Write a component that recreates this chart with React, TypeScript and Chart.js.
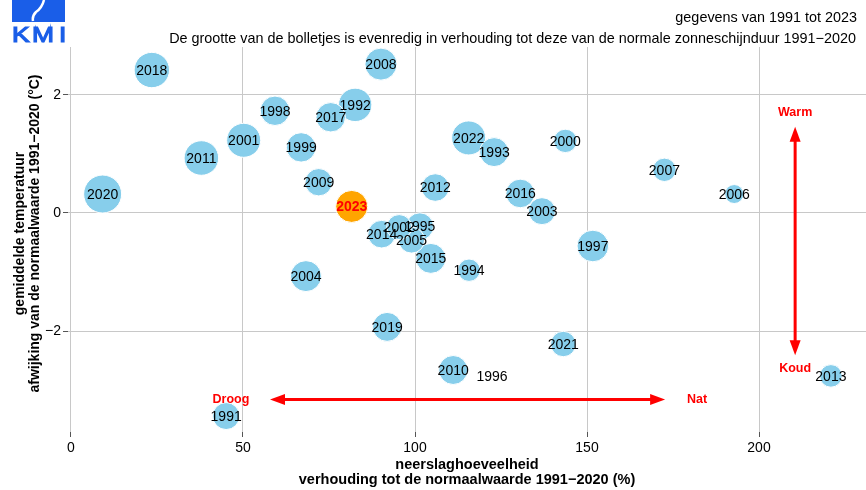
import { useEffect, useRef } from 'react';
import { Chart, registerables } from 'chart.js';

Chart.register(...registerables);

const jaren = [1991, 1992, 1993, 1994, 1995, 1996, 1997, 1998, 1999, 2000, 2001, 2002, 2003, 2004, 2005, 2006, 2007, 2008, 2009, 2010, 2011, 2012, 2013, 2014, 2015, 2016, 2017, 2018, 2019, 2020, 2021, 2022, 2023];
const neerslag = [45.1, 82.6, 123.0, 115.7, 101.4, 122.4, 151.7, 59.3, 66.9, 143.7, 50.2, 95.4, 136.9, 68.3, 99.0, 192.8, 172.5, 90.1, 72.0, 111.1, 37.9, 105.9, 220.9, 90.3, 104.6, 130.6, 75.5, 23.5, 91.9, 9.2, 143.1, 115.6, 81.6];
const temperatuur = [-3.44, 1.83, 1.03, -0.97, -0.23, -2.77, -0.56, 1.73, 1.11, 1.22, 1.23, -0.24, 0.03, -1.07, -0.46, 0.32, 0.73, 2.52, 0.52, -2.66, 0.93, 0.43, -2.76, -0.36, -0.77, 0.33, 1.62, 2.42, -1.93, 0.32, -2.22, 1.27, 0.11];
const zonneschijn = [105.0, 112.1, 107.2, 99.9, 105.4, 75.0, 110.1, 107.7, 107.7, 101.0, 112.8, 102.8, 105.0, 109.4, 103.9, 96.1, 101.0, 110.6, 105.4, 107.2, 113.4, 105.7, 100.1, 105.7, 108.3, 106.8, 107.7, 114.3, 107.2, 117.2, 103.2, 112.8, 110.6];
const huidigJaar = 2023;

const xTicks = [0, 50, 100, 150, 200];
const yTicks = [-2, 0, 2];

const titel1 = 'gegevens van 1991 tot 2023';
const titel2 = 'De grootte van de bolletjes is evenredig in verhouding tot deze van de normale zonneschijnduur 1991\u22122020';
const xTitel = ['neerslaghoeveelheid', 'verhouding tot de normaalwaarde 1991\u22122020 (%)'];
const yTitel = ['gemiddelde temperatuur', 'afwijking van de normaalwaarde 1991\u22122020 (\u00B0C)'];

// annotations (data units)
const horPijl = { x0: 57.85, x1: 172.7, y: -3.16 };
const verPijl = { x: 210.5, y0: 1.46, y1: -2.41 };
const pijlLabels = [
  { tekst: 'Droog', x: 46.5, y: -3.16 },
  { tekst: 'Nat', x: 182.0, y: -3.16 },
  { tekst: 'Warm', x: 210.5, y: 1.70 },
  { tekst: 'Koud', x: 210.5, y: -2.64 },
];

const FONT = "'Liberation Sans', Arial, Helvetica, sans-serif";

function straal(s: number) {
  return Math.max(0, (s - 75) * 0.45);
}

function fmt(v: number) {
  return v < 0 ? '\u2212' + Math.abs(v) : String(v);
}

export default function App() {
  const ref = useRef<HTMLCanvasElement | null>(null);

  useEffect(() => {
    const canvas = ref.current;
    if (!canvas) return;

    const punten = jaren.map((j, i) => ({
      x: neerslag[i],
      y: temperatuur[i],
      r: straal(zonneschijn[i]),
      jaar: j,
    }));
    punten.sort((a, b) => b.r - a.r);

    const labelPlugin = {
      id: 'labels',
      afterDatasetsDraw(chart: any) {
        const ctx = chart.ctx;
        const xs = chart.scales.x;
        const ys = chart.scales.y;
        ctx.save();
        ctx.textAlign = 'center';
        ctx.textBaseline = 'middle';
        jaren.forEach((j, i) => {
          const px = xs.getPixelForValue(neerslag[i]);
          const py = ys.getPixelForValue(temperatuur[i]);
          if (j === huidigJaar) {
            ctx.font = `bold 14px ${FONT}`;
            ctx.fillStyle = '#ff0000';
          } else {
            ctx.font = `14px ${FONT}`;
            ctx.fillStyle = '#000000';
          }
          ctx.fillText(String(j), px, py + 1);
        });
        ctx.restore();
      },
    };

    const extraPlugin = {
      id: 'extra',
      afterDraw(chart: any) {
        const ctx = chart.ctx;
        const xs = chart.scales.x;
        const ys = chart.scales.y;
        const ca = chart.chartArea;
        ctx.save();

        // arrows
        const rood = '#ff0000';
        const kop = (tx: number, ty: number, dx: number, dy: number) => {
          const L = 15, W = 5.5;
          const bx = tx - dx * L, by = ty - dy * L;
          ctx.beginPath();
          ctx.moveTo(tx, ty);
          ctx.lineTo(bx - dy * W, by + dx * W);
          ctx.lineTo(bx + dy * W, by - dx * W);
          ctx.closePath();
          ctx.fill();
        };
        ctx.strokeStyle = rood;
        ctx.fillStyle = rood;
        ctx.lineWidth = 3;
        const hx0 = xs.getPixelForValue(horPijl.x0);
        const hx1 = xs.getPixelForValue(horPijl.x1);
        const hy = ys.getPixelForValue(horPijl.y);
        ctx.beginPath();
        ctx.moveTo(hx0 + 8, hy);
        ctx.lineTo(hx1 - 8, hy);
        ctx.stroke();
        kop(hx0, hy, -1, 0);
        kop(hx1, hy, 1, 0);
        const vx = xs.getPixelForValue(verPijl.x);
        const vy0 = ys.getPixelForValue(verPijl.y0);
        const vy1 = ys.getPixelForValue(verPijl.y1);
        ctx.beginPath();
        ctx.moveTo(vx, vy0 + 8);
        ctx.lineTo(vx, vy1 - 8);
        ctx.stroke();
        kop(vx, vy0, 0, -1);
        kop(vx, vy1, 0, 1);

        ctx.font = `bold 12.5px ${FONT}`;
        ctx.textAlign = 'center';
        ctx.textBaseline = 'middle';
        pijlLabels.forEach((l) => {
          ctx.fillText(l.tekst, xs.getPixelForValue(l.x), ys.getPixelForValue(l.y));
        });

        // titles
        ctx.fillStyle = '#000';
        ctx.font = `14.4px ${FONT}`;
        ctx.textAlign = 'right';
        ctx.textBaseline = 'alphabetic';
        ctx.fillText(titel1, 857, 22);
        ctx.fillText(titel2, 856, 43);

        // axis titles
        ctx.font = `bold 14.5px ${FONT}`;
        ctx.textAlign = 'center';
        ctx.textBaseline = 'middle';
        const cx = (ca.left + ca.right) / 2;
        ctx.fillText(xTitel[0], cx, 465);
        ctx.fillText(xTitel[1], cx, 480);
        ctx.font = `bold 14px ${FONT}`;
        const cy = (ca.top + ca.bottom) / 2 - 6;
        ctx.save();
        ctx.translate(20, cy);
        ctx.rotate(-Math.PI / 2);
        ctx.fillText(yTitel[0], 0, 0);
        ctx.restore();
        ctx.save();
        ctx.translate(35, cy);
        ctx.rotate(-Math.PI / 2);
        ctx.fillText(yTitel[1], 0, 0);
        ctx.restore();

        // logo
        const blauw = '#1a5ee8';
        ctx.fillStyle = blauw;
        ctx.fillRect(12, 0, 53, 22);
        ctx.strokeStyle = '#ffffff';
        ctx.lineWidth = 2.5;
        ctx.beginPath();
        ctx.moveTo(44, 0);
        ctx.quadraticCurveTo(42, 8, 36, 12);
        ctx.quadraticCurveTo(32, 16, 33, 21);
        ctx.stroke();
        ctx.fillStyle = blauw;
        ctx.strokeStyle = blauw;
        ctx.lineWidth = 1.2;
        ctx.font = `22px ${FONT}`;
        ctx.textAlign = 'left';
        ctx.textBaseline = 'alphabetic';
        const letters: [string, number][] = [['K', 12], ['M', 32], ['I', 59]];
        letters.forEach(([t, x]) => {
          ctx.save();
          ctx.translate(x, 41.5);
          ctx.scale(1.2, 1.03);
          ctx.fillText(t, 0, 0);
          ctx.strokeText(t, 0, 0);
          ctx.restore();
        });

        ctx.restore();
      },
    };

    const chart = new Chart(canvas, {
      type: 'bubble',
      data: {
        datasets: [
          {
            data: punten as any,
            backgroundColor: punten.map((p) => (p.jaar === huidigJaar ? '#ffa500' : '#87ceeb')),
            borderColor: '#ffffff',
            borderWidth: 1,
            hoverRadius: 0,
            hoverBorderWidth: 1,
          },
        ],
      },
      options: {
        responsive: false,
        animation: false,
        devicePixelRatio: 1,
        events: [],
        layout: { autoPadding: false, padding: { top: 47, left: 0, right: 0, bottom: 0 } },
        plugins: {
          legend: { display: false },
          tooltip: { enabled: false },
          title: { display: false },
        },
        scales: {
          x: {
            type: 'linear',
            min: -0.87,
            max: 231.1,
            afterFit: (axis: any) => { axis.height = 58; },
            afterBuildTicks: (axis: any) => { axis.ticks = xTicks.map((v) => ({ value: v })); },
            border: { display: false },
            grid: { color: '#c8c8c8', lineWidth: 1, tickColor: '#555555', tickLength: 5 },
            ticks: {
              padding: 3,
              maxRotation: 0,
              color: '#000',
              font: { family: FONT, size: 14 },
              callback: (v: any) => fmt(Number(v)),
            },
          },
          y: {
            type: 'linear',
            min: -3.71,
            max: 2.81,
            afterFit: (axis: any) => { axis.width = 68; },
            afterBuildTicks: (axis: any) => { axis.ticks = yTicks.map((v) => ({ value: v })); },
            border: { display: false },
            grid: { color: '#c8c8c8', lineWidth: 1, tickColor: '#555555', tickLength: 5 },
            ticks: {
              padding: 2,
              color: '#000',
              font: { family: FONT, size: 14 },
              callback: (v: any) => fmt(Number(v)),
            },
          },
        },
      },
      plugins: [labelPlugin, extraPlugin],
    });

    return () => chart.destroy();
  }, []);

  return (
    <div style={{ position: 'absolute', left: 0, top: 0, width: 866, height: 490, background: '#fff' }}>
      <canvas ref={ref} width={866} height={490} style={{ display: 'block' }} />
    </div>
  );
}
